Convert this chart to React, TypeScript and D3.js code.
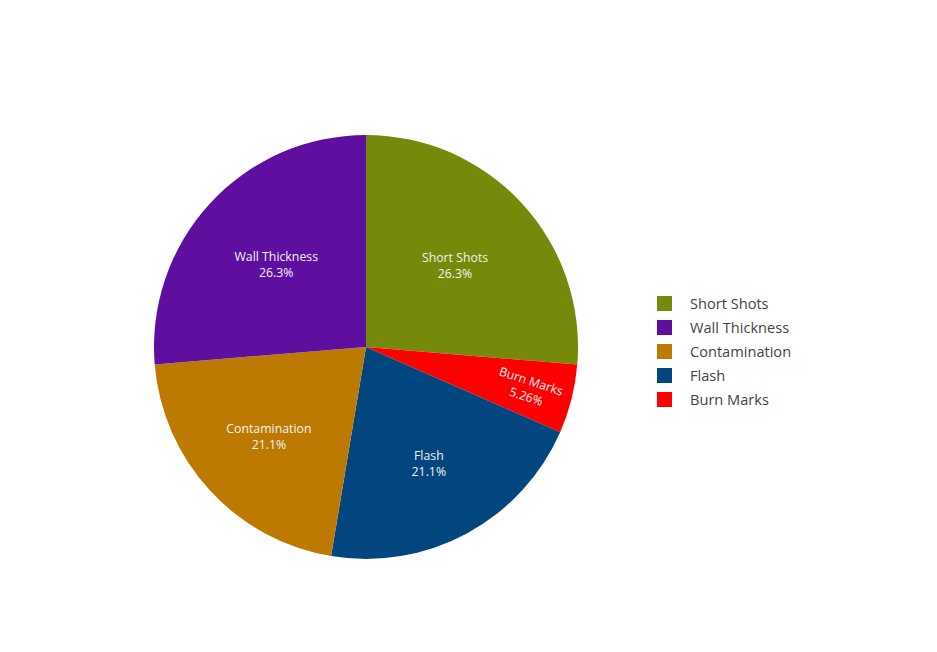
import React from "react";
import * as d3 from "d3";

const categories = ["Short Shots", "Burn Marks", "Flash", "Contamination", "Wall Thickness"];
const values = [5, 1, 4, 4, 5];
const colors = ["#758a0b", "#ff0000", "#02467f", "#bd7a00", "#5f0fa0"];
const legendOrder = ["Short Shots", "Wall Thickness", "Contamination", "Flash", "Burn Marks"];

const W = 937;
const H = 652;
const cx = 366;
const cy = 347;
const R = 212;

function fmtPct(p: number) {
  const v = p * 100;
  const s = d3.format(".3~r")(v);
  return s + "%";
}

export default function App() {
  const data = categories.map((c, i) => ({ name: c, value: values[i], color: colors[i] }));
  const total = d3.sum(values);
  const pie = d3.pie<any>().value((d) => d.value).sort(null).startAngle(0).endAngle(2 * Math.PI);
  const arcs = pie(data);
  const arcGen = d3.arc<any>().innerRadius(0).outerRadius(R);
  const labelR: Record<string, number> = {
    "Short Shots": 121,
    "Wall Thickness": 122,
    Contamination: 132,
    Flash: 132,
    "Burn Marks": 168,
  };
  return (
    <svg width={W} height={H} style={{ position: "absolute", left: 0, top: 0, background: "#fff" }}>
      <g transform={`translate(${cx},${cy})`}>
        {arcs.map((a) => (
          <path key={a.data.name} d={arcGen(a) || ""} fill={a.data.color} />
        ))}
        {arcs.map((a) => {
          const mid = (a.startAngle + a.endAngle) / 2;
          const r = labelR[a.data.name];
          const x = r * Math.sin(mid);
          const y = -r * Math.cos(mid);
          const small = a.data.value / total < 0.1;
          const rot = small ? (mid * 180) / Math.PI - 90 + 4 : 0;
          return (
            <g key={a.data.name + "-l"} transform={`translate(${x},${y}) rotate(${rot})`}>
              <text
                textAnchor="middle"
                fontFamily="'Open Sans', sans-serif"
                fontSize={12.3}
                fill="#f2f2f2"
              >
                <tspan x={0} dy={-3}>{a.data.name}</tspan>
                <tspan x={0} dy={16}>{fmtPct(a.data.value / total)}</tspan>
              </text>
            </g>
          );
        })}
      </g>
      <g transform="translate(657,296)">
        {legendOrder.map((name, i) => {
          const idx = categories.indexOf(name);
          return (
            <g key={name} transform={`translate(0,${i * 24})`}>
              <rect x={0} y={0} width={15} height={15} fill={colors[idx]} />
              <text
                x={33}
                y={12.5}
                fontFamily="'Open Sans', sans-serif"
                fontSize={14.6}
                fill="#444"
              >
                {name}
              </text>
            </g>
          );
        })}
      </g>
    </svg>
  );
}
